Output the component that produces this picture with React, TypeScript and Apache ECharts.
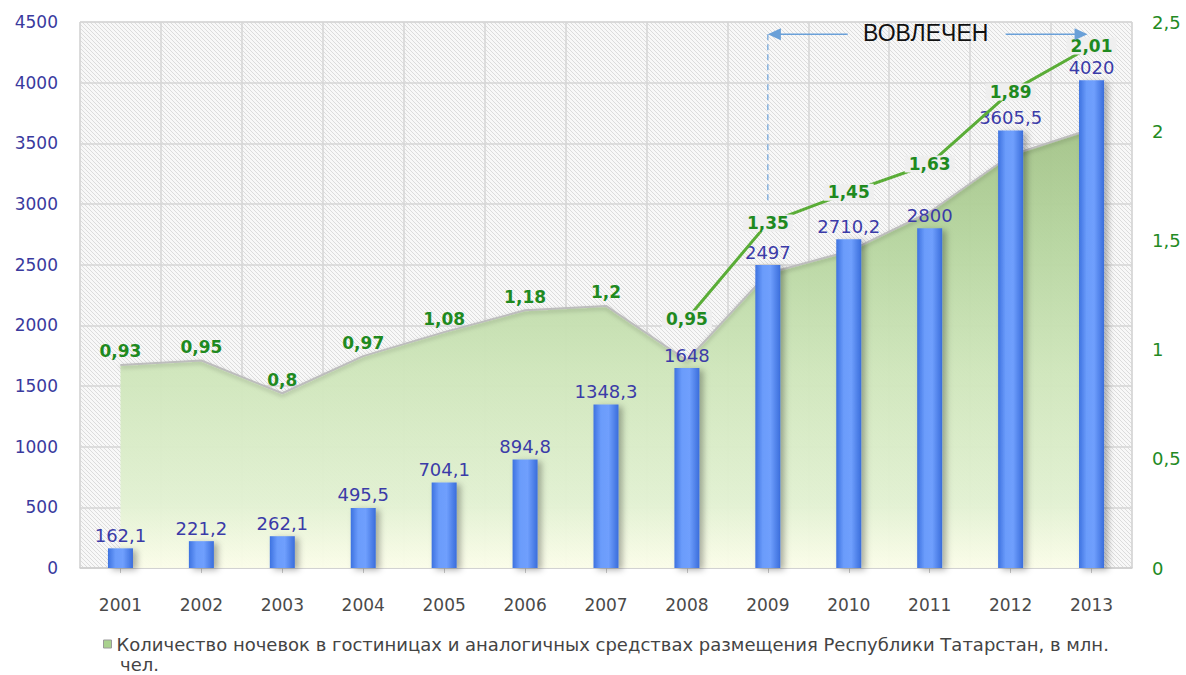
import React, { useEffect, useRef } from "react";
import * as echarts from "echarts";

const years = ["2001", "2002", "2003", "2004", "2005", "2006", "2007", "2008", "2009", "2010", "2011", "2012", "2013"];
const overnightStays = [162.1, 221.2, 262.1, 495.5, 704.1, 894.8, 1348.3, 1648, 2497, 2710.2, 2800, 3605.5, 4020];
const millionPeople = [0.93, 0.95, 0.8, 0.97, 1.08, 1.18, 1.2, 0.95, 1.35, 1.45, 1.63, 1.89, 2.01];
// heights (right axis) of the raised callout labels for 2008-2013
const calloutLevels: (number | null)[] = [null, null, null, null, null, null, null, 1.14, 1.58, 1.72, 1.85, 2.18, 2.39];
const firstCallout = 7;
const seriesName = "Количество ночевок в гостиницах и аналогичных средствах размещения Республики Татарстан, в млн.";
const seriesNameTail = "чел.";
const bracketTitle = "ВОВЛЕЧЕН";

const comma = (v: number) => String(v).replace(".", ",");
const FONT = "DejaVu Sans, Verdana, sans-serif";

function makeHatch() {
  const c = document.createElement("canvas");
  c.width = 8;
  c.height = 8;
  const ctx = c.getContext("2d")!;
  ctx.fillStyle = "#f8f8f8";
  ctx.fillRect(0, 0, 8, 8);
  ctx.strokeStyle = "#dcdcdc";
  ctx.lineWidth = 1;
  for (const off of [-8, -4, 0, 4, 8]) {
    ctx.beginPath();
    ctx.moveTo(off, 0);
    ctx.lineTo(off + 8, 8);
    ctx.stroke();
  }
  return c;
}

export default function App() {
  const ref = useRef<HTMLDivElement>(null);
  useEffect(() => {
    if (!ref.current) return;
    const chart = echarts.init(ref.current, undefined, { renderer: "svg" });
    const option: any = {
      animation: false,
      backgroundColor: "#ffffff",
      grid: {
        left: 80,
        right: 54,
        top: 22,
        bottom: 107,
        show: true,
        backgroundColor: { image: makeHatch(), repeat: "repeat" },
        borderColor: "#d3d3d3",
        borderWidth: 1,
      },
      legend: {
        data: [seriesName],
        left: 98,
        top: 630,
        icon: "rect",
        itemWidth: 8,
        itemHeight: 8,
        itemGap: 6,
        itemStyle: { color: "#a9d18e", borderColor: "#9a9a9a", borderWidth: 1 },
        textStyle: { fontFamily: FONT, fontSize: 18, color: "#444" },
        selectedMode: false,
      },
      xAxis: {
        type: "category",
        data: years,
        boundaryGap: true,
        axisLine: { lineStyle: { color: "#cfcfcf", width: 1.5 } },
        axisTick: { show: true, alignWithLabel: true, length: 5, lineStyle: { color: "#c8c8c8" } },
        axisLabel: { color: "#4a4a4a", fontFamily: FONT, fontSize: 17, margin: 28 },
        splitLine: { show: true, lineStyle: { color: "#d6d6d6", width: 1.5 } },
      },
      yAxis: [
        {
          type: "value",
          min: 0,
          max: 4500,
          interval: 500,
          axisLine: { show: false },
          axisTick: { show: false },
          axisLabel: { color: "#3a3a9e", fontFamily: FONT, fontSize: 17, margin: 22, formatter: (v: number) => String(v) },
          splitLine: { show: true, lineStyle: { color: "#d6d6d6", width: 1.5 } },
        },
        {
          type: "value",
          min: 0,
          max: 2.5,
          interval: 0.5,
          axisLine: { show: false },
          axisTick: { show: false },
          axisLabel: { color: "#238a23", fontFamily: FONT, fontSize: 18, margin: 20, formatter: (v: number) => comma(v) },
          splitLine: { show: false },
        },
      ],
      series: [
        {
          name: seriesName,
          type: "line",
          yAxisIndex: 1,
          z: 1,
          symbol: "circle",
          symbolSize: 0.1,
          itemStyle: { color: "#a9d18e" },
          lineStyle: { color: "#bdbdbd", width: 2, shadowColor: "rgba(0,0,0,0.25)", shadowBlur: 4, shadowOffsetY: 2 },
          areaStyle: {
            opacity: 0.96,
            color: {
              type: "linear",
              x: 0,
              y: 0,
              x2: 0,
              y2: 1,
              colorStops: [
                { offset: 0, color: "#a4c489" },
                { offset: 0.25, color: "#b6d59f" },
                { offset: 0.55, color: "#cfe6bb" },
                { offset: 0.85, color: "#e2f1d2" },
                { offset: 1, color: "#fbfde9" },
              ],
            },
          },
          data: millionPeople.map((v, i) => ({ value: v, label: { show: i < firstCallout } })),
          label: {
            show: true,
            position: "top",
            distance: 5,
            color: "#1f8a1f",
            fontFamily: FONT,
            fontWeight: "bold",
            fontSize: 17,
            formatter: (p: any) => comma(p.value),
          },
        },
        {
          type: "bar",
          yAxisIndex: 0,
          z: 2,
          barWidth: 25,
          data: overnightStays,
          itemStyle: {
            color: {
              type: "linear",
              x: 0,
              y: 0,
              x2: 1,
              y2: 0,
              colorStops: [
                { offset: 0, color: "#3d72e0" },
                { offset: 0.3, color: "#6b9cfb" },
                { offset: 0.6, color: "#6f9ffd" },
                { offset: 1, color: "#3a6ddb" },
              ],
            },
            shadowColor: "rgba(0,0,0,0.3)",
            shadowBlur: 6,
            shadowOffsetX: 4,
            shadowOffsetY: 2,
          },
          label: {
            show: true,
            position: "top",
            distance: 4,
            color: "#3b3ba8",
            fontFamily: FONT,
            fontSize: 18,
            formatter: (p: any) => comma(p.value),
          },
        },
        {
          type: "line",
          yAxisIndex: 1,
          z: 3,
          symbol: "circle",
          symbolSize: 0.1,
          itemStyle: { color: "rgba(0,0,0,0)" },
          lineStyle: { color: "#5aad37", width: 3 },
          data: calloutLevels,
          label: {
            show: true,
            position: "inside",
            color: "#1f8a1f",
            fontFamily: FONT,
            fontWeight: "bold",
            fontSize: 17,
            backgroundColor: "#efefef",
            padding: [0, 4],
            formatter: (p: any) => comma(millionPeople[p.dataIndex]),
          },
        },
      ],
    };
    chart.setOption(option);

    const x2009 = chart.convertToPixel({ xAxisIndex: 0 }, "2009") as number;
    const x2013 = chart.convertToPixel({ xAxisIndex: 0 }, "2013") as number;
    const yTop = chart.convertToPixel({ yAxisIndex: 0 }, 4400) as number;
    const yDashEnd = chart.convertToPixel({ yAxisIndex: 0 }, 3000) as number;
    const mid = (x2009 + x2013) / 2 - 4;
    const arrowColor = "#6aa0d8";
    chart.setOption({
      graphic: [
        {
          type: "line",
          z: 10,
          shape: { x1: x2009, y1: yTop, x2: x2009, y2: yDashEnd },
          style: { stroke: arrowColor, lineWidth: 1.2, lineDash: [6, 4] },
        },
        {
          type: "line",
          z: 10,
          shape: { x1: x2009 + 8, y1: yTop, x2: mid - 78, y2: yTop },
          style: { stroke: arrowColor, lineWidth: 1.5 },
        },
        {
          type: "polygon",
          z: 10,
          shape: { points: [[x2009, yTop], [x2009 + 13, yTop - 6], [x2009 + 13, yTop + 6]] },
          style: { fill: arrowColor },
        },
        {
          type: "line",
          z: 10,
          shape: { x1: mid + 80, y1: yTop, x2: x2013 - 14, y2: yTop },
          style: { stroke: arrowColor, lineWidth: 1.5 },
        },
        {
          type: "polygon",
          z: 10,
          shape: { points: [[x2013 - 4, yTop], [x2013 - 17, yTop - 6], [x2013 - 17, yTop + 6]] },
          style: { fill: arrowColor },
        },
        {
          type: "text",
          z: 10,
          x: mid,
          y: yTop - 1,
          style: {
            text: bracketTitle,
            fill: "#111",
            fontFamily: "Liberation Sans, Arial, sans-serif",
            fontSize: 23,
            align: "center",
            verticalAlign: "middle",
          },
        },
        {
          type: "text",
          z: 10,
          x: 120,
          y: 664,
          style: {
            text: seriesNameTail,
            fill: "#444",
            fontFamily: FONT,
            fontSize: 18,
            align: "left",
            verticalAlign: "middle",
          },
        },
      ],
    });
    return () => chart.dispose();
  }, []);
  return <div ref={ref} style={{ position: "fixed", left: 0, top: 0, width: 1186, height: 675 }} />;
}
